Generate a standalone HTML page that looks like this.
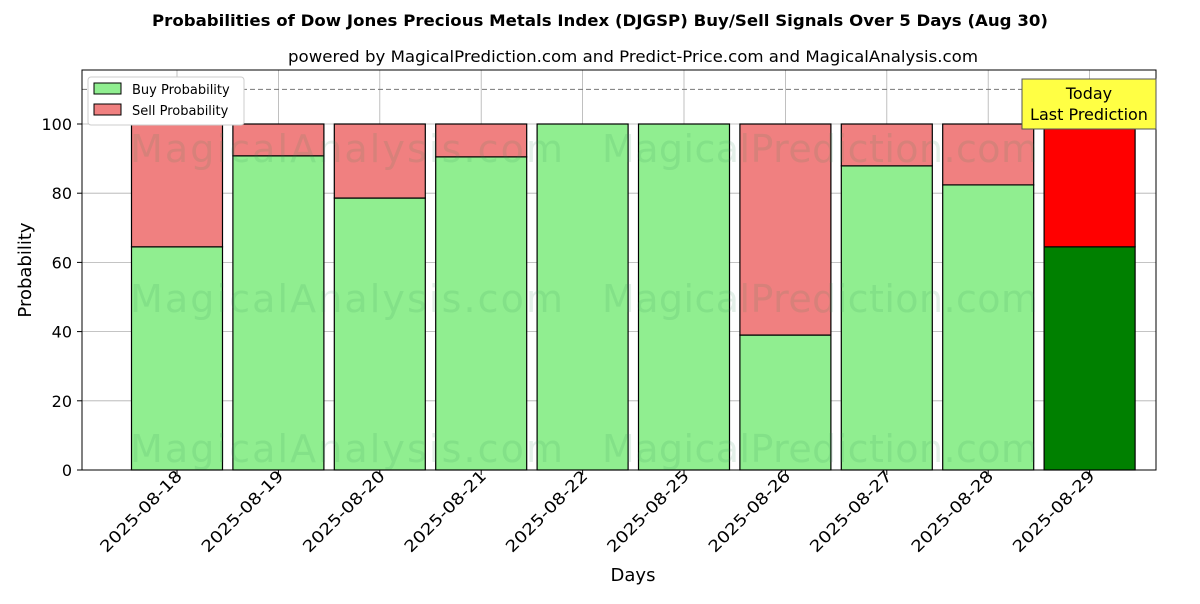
<!DOCTYPE html>
<html><head><meta charset="utf-8"><style>
body{margin:0;background:#fff;font-family:"DejaVu Sans","Liberation Sans",sans-serif}
</style></head><body>
<svg width="1200" height="600" xmlns="http://www.w3.org/2000/svg" font-family="DejaVu Sans, Liberation Sans, sans-serif">
<text x="600" y="26" text-anchor="middle" font-size="16" font-weight="bold" textLength="896" lengthAdjust="spacingAndGlyphs">Probabilities of Dow Jones Precious Metals Index (DJGSP) Buy/Sell Signals Over 5 Days (Aug 30)</text>
<text x="633" y="62" text-anchor="middle" font-size="16" textLength="690" lengthAdjust="spacingAndGlyphs">powered by MagicalPrediction.com and Predict-Price.com and MagicalAnalysis.com</text>
<g id="grid"></g>
<g id="bars"></g>
<g font-size="38" fill="#2e8b57" fill-opacity="0.13">
<text x="130" y="162" textLength="433">MagicalAnalysis.com</text><text x="602" y="162" textLength="436">MagicalPrediction.com</text>
<text x="130" y="312" textLength="433">MagicalAnalysis.com</text><text x="602" y="312" textLength="436">MagicalPrediction.com</text>
<text x="130" y="462" textLength="433">MagicalAnalysis.com</text><text x="602" y="462" textLength="436">MagicalPrediction.com</text>
</g>
<line x1="82" x2="1156" y1="89.4" y2="89.4" stroke="#777" stroke-dasharray="5,3"/>
<g id="axes"></g>
<rect x="82" y="70" width="1074" height="400" fill="none" stroke="#000"/>
<g>
<rect x="1022" y="79" width="134" height="50" fill="#ffff44" stroke="#555"/>
<text x="1089" y="99" text-anchor="middle" font-size="16">Today</text>
<text x="1089" y="120" text-anchor="middle" font-size="16">Last Prediction</text>
</g>
<g>
<rect x="88" y="77" width="156" height="48" fill="#fff" stroke="#ccc" rx="3"/>
<rect x="94" y="83" width="27" height="11" fill="#90ee90" stroke="#000"/>
<text x="132" y="94" font-size="13">Buy Probability</text>
<rect x="94" y="104" width="27" height="11" fill="#f08080" stroke="#000"/>
<text x="132" y="115" font-size="13">Sell Probability</text>
</g>
<text x="633" y="581" text-anchor="middle" font-size="18">Days</text>
<text transform="translate(31,270) rotate(-90)" text-anchor="middle" font-size="18">Probability</text>
</svg>
<script>
const categories=["2025-08-18","2025-08-19","2025-08-20","2025-08-21","2025-08-22","2025-08-25","2025-08-26","2025-08-27","2025-08-28","2025-08-29"];
const buyValues=[64.5,90.8,78.6,90.5,100,100,39.0,87.9,82.4,64.5];
const sellValues=[35.5,9.2,21.4,9.5,0,0,61.0,12.1,17.6,35.5];
const yTicks=[0,20,40,60,80,100];
const NS="http://www.w3.org/2000/svg";
const y=v=>470-v*3.46;
const x=i=>177+i*101.4;
const bw=91;
function mk(tag,attrs,parent){const e=document.createElementNS(NS,tag);for(const k in attrs)e.setAttribute(k,attrs[k]);parent.appendChild(e);return e;}
const grid=document.getElementById('grid'),bars=document.getElementById('bars'),axes=document.getElementById('axes');
yTicks.forEach(t=>{
 const l=mk('line',{x1:82,x2:1156,y1:y(t),y2:y(t),stroke:'#b0b0b0','stroke-width':0.8},grid);
 
 
 mk('line',{x1:77,x2:82,y1:y(t),y2:y(t),stroke:'#000'},axes);
 const tx=mk('text',{x:72,y:y(t)+6,'text-anchor':'end','font-size':16},axes);tx.textContent=t;
 
 
});
categories.forEach((c,i)=>{
 const l=mk('line',{x1:x(i),x2:x(i),y1:70,y2:470,stroke:'#b0b0b0','stroke-width':0.8},grid);
 
 
 const last=i===categories.length-1;
 const b=mk('rect',{x:x(i)-bw/2,y:y(buyValues[i]),width:bw,height:y(0)-y(buyValues[i]),fill:last?'#008000':'#90ee90',stroke:'#000','stroke-width':1.2},bars);
 
 
 const s=mk('rect',{x:x(i)-bw/2,y:y(buyValues[i]+sellValues[i]),width:bw,height:y(buyValues[i])-y(buyValues[i]+sellValues[i]),fill:last?'#ff0000':'#f08080',stroke:'#000','stroke-width':1.2},bars);
 
 
 mk('line',{x1:x(i),x2:x(i),y1:470,y2:475,stroke:'#000'},axes);
 const tx=mk('text',{transform:`translate(${x(i)+6},${477}) rotate(-45)`,'text-anchor':'end','font-size':16,textLength:108,lengthAdjust:'spacingAndGlyphs'},axes);tx.textContent=c;
 
 
});
</script>
</body></html>
